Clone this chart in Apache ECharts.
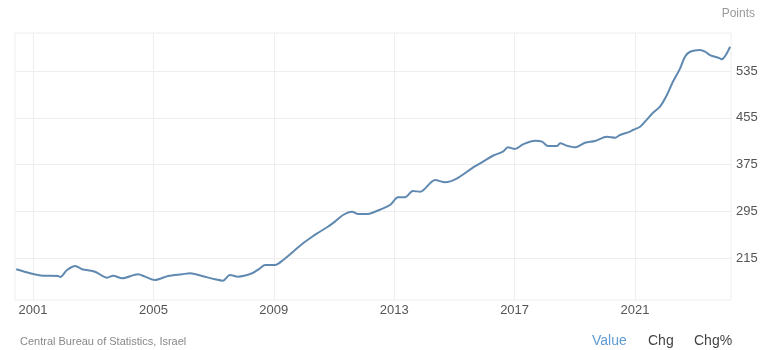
<!DOCTYPE html>
<html>
<head>
<meta charset="utf-8">
<script src="https://cdn.jsdelivr.net/npm/echarts@6/dist/echarts.min.js"></script>
<style>
  html, body { margin: 0; padding: 0; background: #fff; }
  #chart { width: 768px; height: 350px; }
</style>
</head>
<body>
<div id="chart"></div>
<script>
// Israel home price index (decimal year, points)
const years = [
    2000.44, 2000.90, 2001.33, 2001.83, 2001.90, 2002.13, 2002.40, 2002.63, 2003.06, 2003.46,
    2003.66, 2003.96, 2004.49, 2004.72, 2005.05, 2005.49, 2005.95, 2006.22, 2006.61, 2007.05,
    2007.31, 2007.54, 2007.81, 2008.28, 2008.54, 2008.71, 2009.04, 2009.31, 2009.64, 2009.97,
    2010.20, 2010.44, 2010.77, 2011.03, 2011.30, 2011.60, 2011.80, 2012.13, 2012.36, 2012.86,
    2013.13, 2013.36, 2013.62, 2013.86, 2014.36, 2014.69, 2015.09, 2015.58, 2015.95, 2016.28,
    2016.61, 2016.78, 2017.01, 2017.28, 2017.68, 2017.91, 2018.11, 2018.41, 2018.51, 2018.74,
    2019.01, 2019.34, 2019.67, 2020.07, 2020.34, 2020.50, 2020.83, 2020.93, 2021.17, 2021.33,
    2021.60, 2021.83, 2022.06, 2022.26, 2022.50, 2022.66, 2022.83, 2023.16, 2023.33, 2023.49,
    2023.82, 2023.88, 2024.16
];
const values = [
    196.1, 189.3, 185.2, 184.7, 182.9, 194.9, 201.7, 196.1, 192.0, 181.7,
    185.2, 180.7, 187.6, 183.5, 177.8, 184.7, 187.6, 189.3, 184.7, 179.0,
    176.6, 186.4, 183.5, 189.3, 197.8, 203.5, 203.5, 212.0, 226.2, 240.5,
    249.1, 257.6, 267.9, 277.5, 288.9, 294.5, 290.6, 290.6, 294.5, 306.0,
    319.2, 319.2, 329.9, 328.7, 348.7, 344.8, 351.6, 368.7, 380.0, 390.2,
    397.1, 404.6, 401.7, 409.7, 415.9, 414.2, 406.8, 406.8, 411.4, 407.3,
    404.6, 412.5, 415.4, 422.7, 421.0, 425.6, 431.3, 434.2, 439.8, 448.4,
    463.7, 474.0, 494.0, 516.7, 539.6, 559.4, 568.0, 570.9, 568.0, 562.3,
    556.7, 555.0, 576.5
];
const yearTicks = [2001, 2005, 2009, 2013, 2017, 2021];
const pointTicks = [215, 295, 375, 455, 535];

const chart = echarts.init(document.getElementById('chart'));

const option = {
    animation: false,
    textStyle: { fontFamily: 'Liberation Sans, Arial, sans-serif' },
    grid: {
        left: 15,
        right: 37,
        top: 33,
        bottom: 50,
        show: true,
        borderColor: '#eeeeee',
        borderWidth: 1
    },
    graphic: [
        {
            type: 'text', right: 13, top: 8,
            style: { text: 'Points', fill: '#999999', font: '12px Liberation Sans, Arial, sans-serif' }
        },
        {
            type: 'text', left: 20, top: 336,
            style: { text: 'Central Bureau of Statistics, Israel', fill: '#888888', font: '11px Liberation Sans, Arial, sans-serif' }
        },
        {
            type: 'text', left: 592, top: 334,
            style: { text: 'Value', fill: '#5f9ad3', font: '14px Liberation Sans, Arial, sans-serif' }
        },
        {
            type: 'text', left: 648, top: 334,
            style: { text: 'Chg', fill: '#444444', font: '14px Liberation Sans, Arial, sans-serif' }
        },
        {
            type: 'text', left: 694, top: 334,
            style: { text: 'Chg%', fill: '#444444', font: '14px Liberation Sans, Arial, sans-serif' }
        }
    ],
    xAxis: {
        type: 'value',
        min: 2000.4,
        max: 2024.19,
        axisLine: { show: false },
        axisTick: { show: false, customValues: yearTicks },
        axisLabel: {
            customValues: yearTicks,
            color: '#555555',
            fontSize: 13,
            margin: 4,
            formatter: v => String(v)
        },
        splitLine: { show: true, lineStyle: { color: '#eeeeee' } }
    },
    yAxis: {
        type: 'value',
        position: 'right',
        min: 143.6,
        max: 600,
        axisLine: { show: false },
        axisTick: { show: false, customValues: pointTicks },
        axisLabel: {
            customValues: pointTicks,
            color: '#555555',
            fontSize: 13,
            margin: 5
        },
        splitLine: { show: true, lineStyle: { color: '#eeeeee' } }
    },
    series: [{
        type: 'line',
        data: years.map((y, i) => [y, values[i]]),
        showSymbol: false,
        smooth: 0.3,
        lineStyle: { color: '#6089b1', width: 2 }
    }]
};

chart.setOption(option);
</script>
</body>
</html>
